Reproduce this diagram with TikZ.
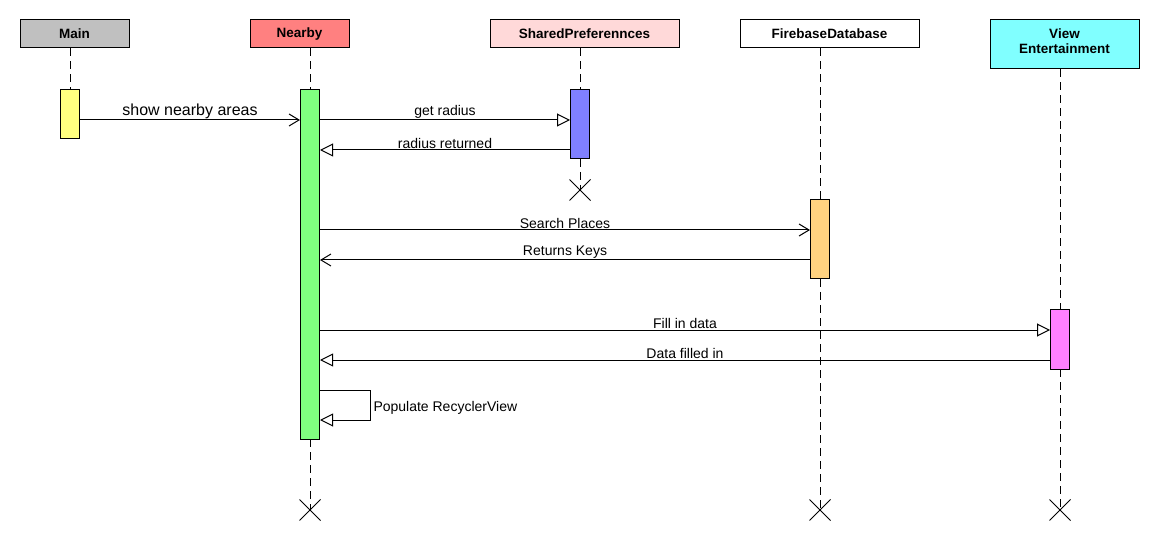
\documentclass[tikz,border=0pt]{standalone}
\usepackage{fontspec}
\setmainfont{Liberation Sans}
\usetikzlibrary{arrows.meta,shapes.misc}
\definecolor{cmain}{HTML}{C0C0C0}
\definecolor{cnear}{HTML}{FF8080}
\definecolor{cshared}{HTML}{FFD9D9}
\definecolor{cview}{HTML}{80FFFF}
\definecolor{amain}{HTML}{FFFF80}
\definecolor{anear}{HTML}{80FF80}
\definecolor{ashared}{HTML}{8080FF}
\definecolor{afire}{HTML}{FFD280}
\definecolor{aview}{HTML}{FF80FF}
\tikzset{
  hdr/.style={draw=black, line width=1pt, inner sep=0pt, minimum height=28pt, font=\fontsize{13.5}{15.5}\selectfont\bfseries, align=center},
  act/.style={draw=black, line width=1pt, inner sep=0pt, minimum width=19pt},
  life/.style={line width=1pt, dash pattern=on 8pt off 5pt},
  endx/.style={draw=black, line width=1pt, cross out, inner sep=0pt, minimum size=20pt},
  msgv/.style={line width=1pt, -{Straight Barb[length=10pt, width=12pt]}},
  msgt/.style={line width=1pt, -{Triangle[open, length=13pt, width=13pt, fill=white]}},
  lbl/.style={font=\fontsize{14}{16}\selectfont, inner sep=1pt},
}
\begin{document}
\begin{tikzpicture}[x=1pt, y=-1pt]
\useasboundingbox (0,0) rectangle (1160,540);
% headers
\node[hdr, fill=cmain, minimum width=109pt] (main) at (74.5,34) {Main};
\node[hdr, fill=cnear, minimum width=99pt] (near) at (299.5,34) {Nearby};
\node[hdr, fill=cshared, minimum width=189pt] (shared) at (584.5,34) {SharedPreferennces};
\node[hdr, fill=white, minimum width=179pt] (fire) at (829.5,34) {FirebaseDatabase};
\node[hdr, fill=cview, minimum width=149pt, minimum height=49pt] (view) at (1064.5,44.5) {View\\Entertainment\\[-13pt]\strut};
% activation anchors
\coordinate (mainT) at (70,90); \coordinate (mainB) at (70,139);
\coordinate (nearT) at (310,90); \coordinate (nearB) at (310,439);
\coordinate (sharedT) at (580,90); \coordinate (sharedB) at (580,159);
\coordinate (fireT) at (820,200); \coordinate (fireB) at (820,279);
\coordinate (viewT) at (1060,310); \coordinate (viewB) at (1060,369);
% end markers
\node[endx] (sharedX) at (580,190) {};
\node[endx] (nearX) at (310,510) {};
\node[endx] (fireX) at (820,510) {};
\node[endx] (viewX) at (1060,510) {};
% lifelines
\draw[life] (mainT |- main.south) -- (mainT);
\draw[life] (nearT |- near.south) -- (nearT);
\draw[life] (nearB) -- (nearX.center);
\draw[life] (sharedT |- shared.south) -- (sharedT);
\draw[life] (sharedB) -- (sharedX.center);
\draw[life] (fireT |- fire.south) -- (fireT);
\draw[life] (fireB) -- (fireX.center);
\draw[life] (viewT |- view.south) -- (viewT);
\draw[life] (viewB) -- (viewX.center);
% activations
\node[act, fill=amain, minimum height=49pt] (mainA) at (70,114.5) {};
\node[act, fill=anear, minimum height=349pt] (nearA) at (310,264.5) {};
\node[act, fill=ashared, minimum height=69pt] (sharedA) at (580,124.5) {};
\node[act, fill=afire, minimum height=79pt] (fireA) at (820,239.5) {};
\node[act, fill=aview, minimum height=59pt] (viewA) at (1060,339.5) {};
% messages
\draw[msgv] (mainA.east |- 0,120) -- node[lbl, above, font=\fontsize{16}{18}\selectfont] {show nearby areas} (nearA.west |- 0,120);
\draw[msgt] (nearA.east |- 0,120) -- node[lbl, above] {get radius} (sharedA.west |- 0,120);
\draw[msgt] (sharedA.west |- 0,150) -- node[lbl, above] {radius returned} (nearA.east |- 0,150);
\draw[msgv] (nearA.east |- 0,230) -- node[lbl, above] {Search Places} (fireA.west |- 0,230);
\draw[msgv] (fireA.west |- 0,260) -- node[lbl, above] {Returns Keys} (nearA.east |- 0,260);
\draw[msgt] (nearA.east |- 0,330) -- node[lbl, above] {Fill in data} (viewA.west |- 0,330);
\draw[msgt] (viewA.west |- 0,360) -- node[lbl, above] {Data filled in} (nearA.east |- 0,360);
\coordinate (selfR) at (370,390);
\draw[msgt] (nearA.east |- selfR) -- (selfR) -- node[lbl, right, pos=0.6, inner sep=3pt] {Populate RecyclerView} ++(0,30) -- (nearA.east |- 0,420);
\end{tikzpicture}
\end{document}
